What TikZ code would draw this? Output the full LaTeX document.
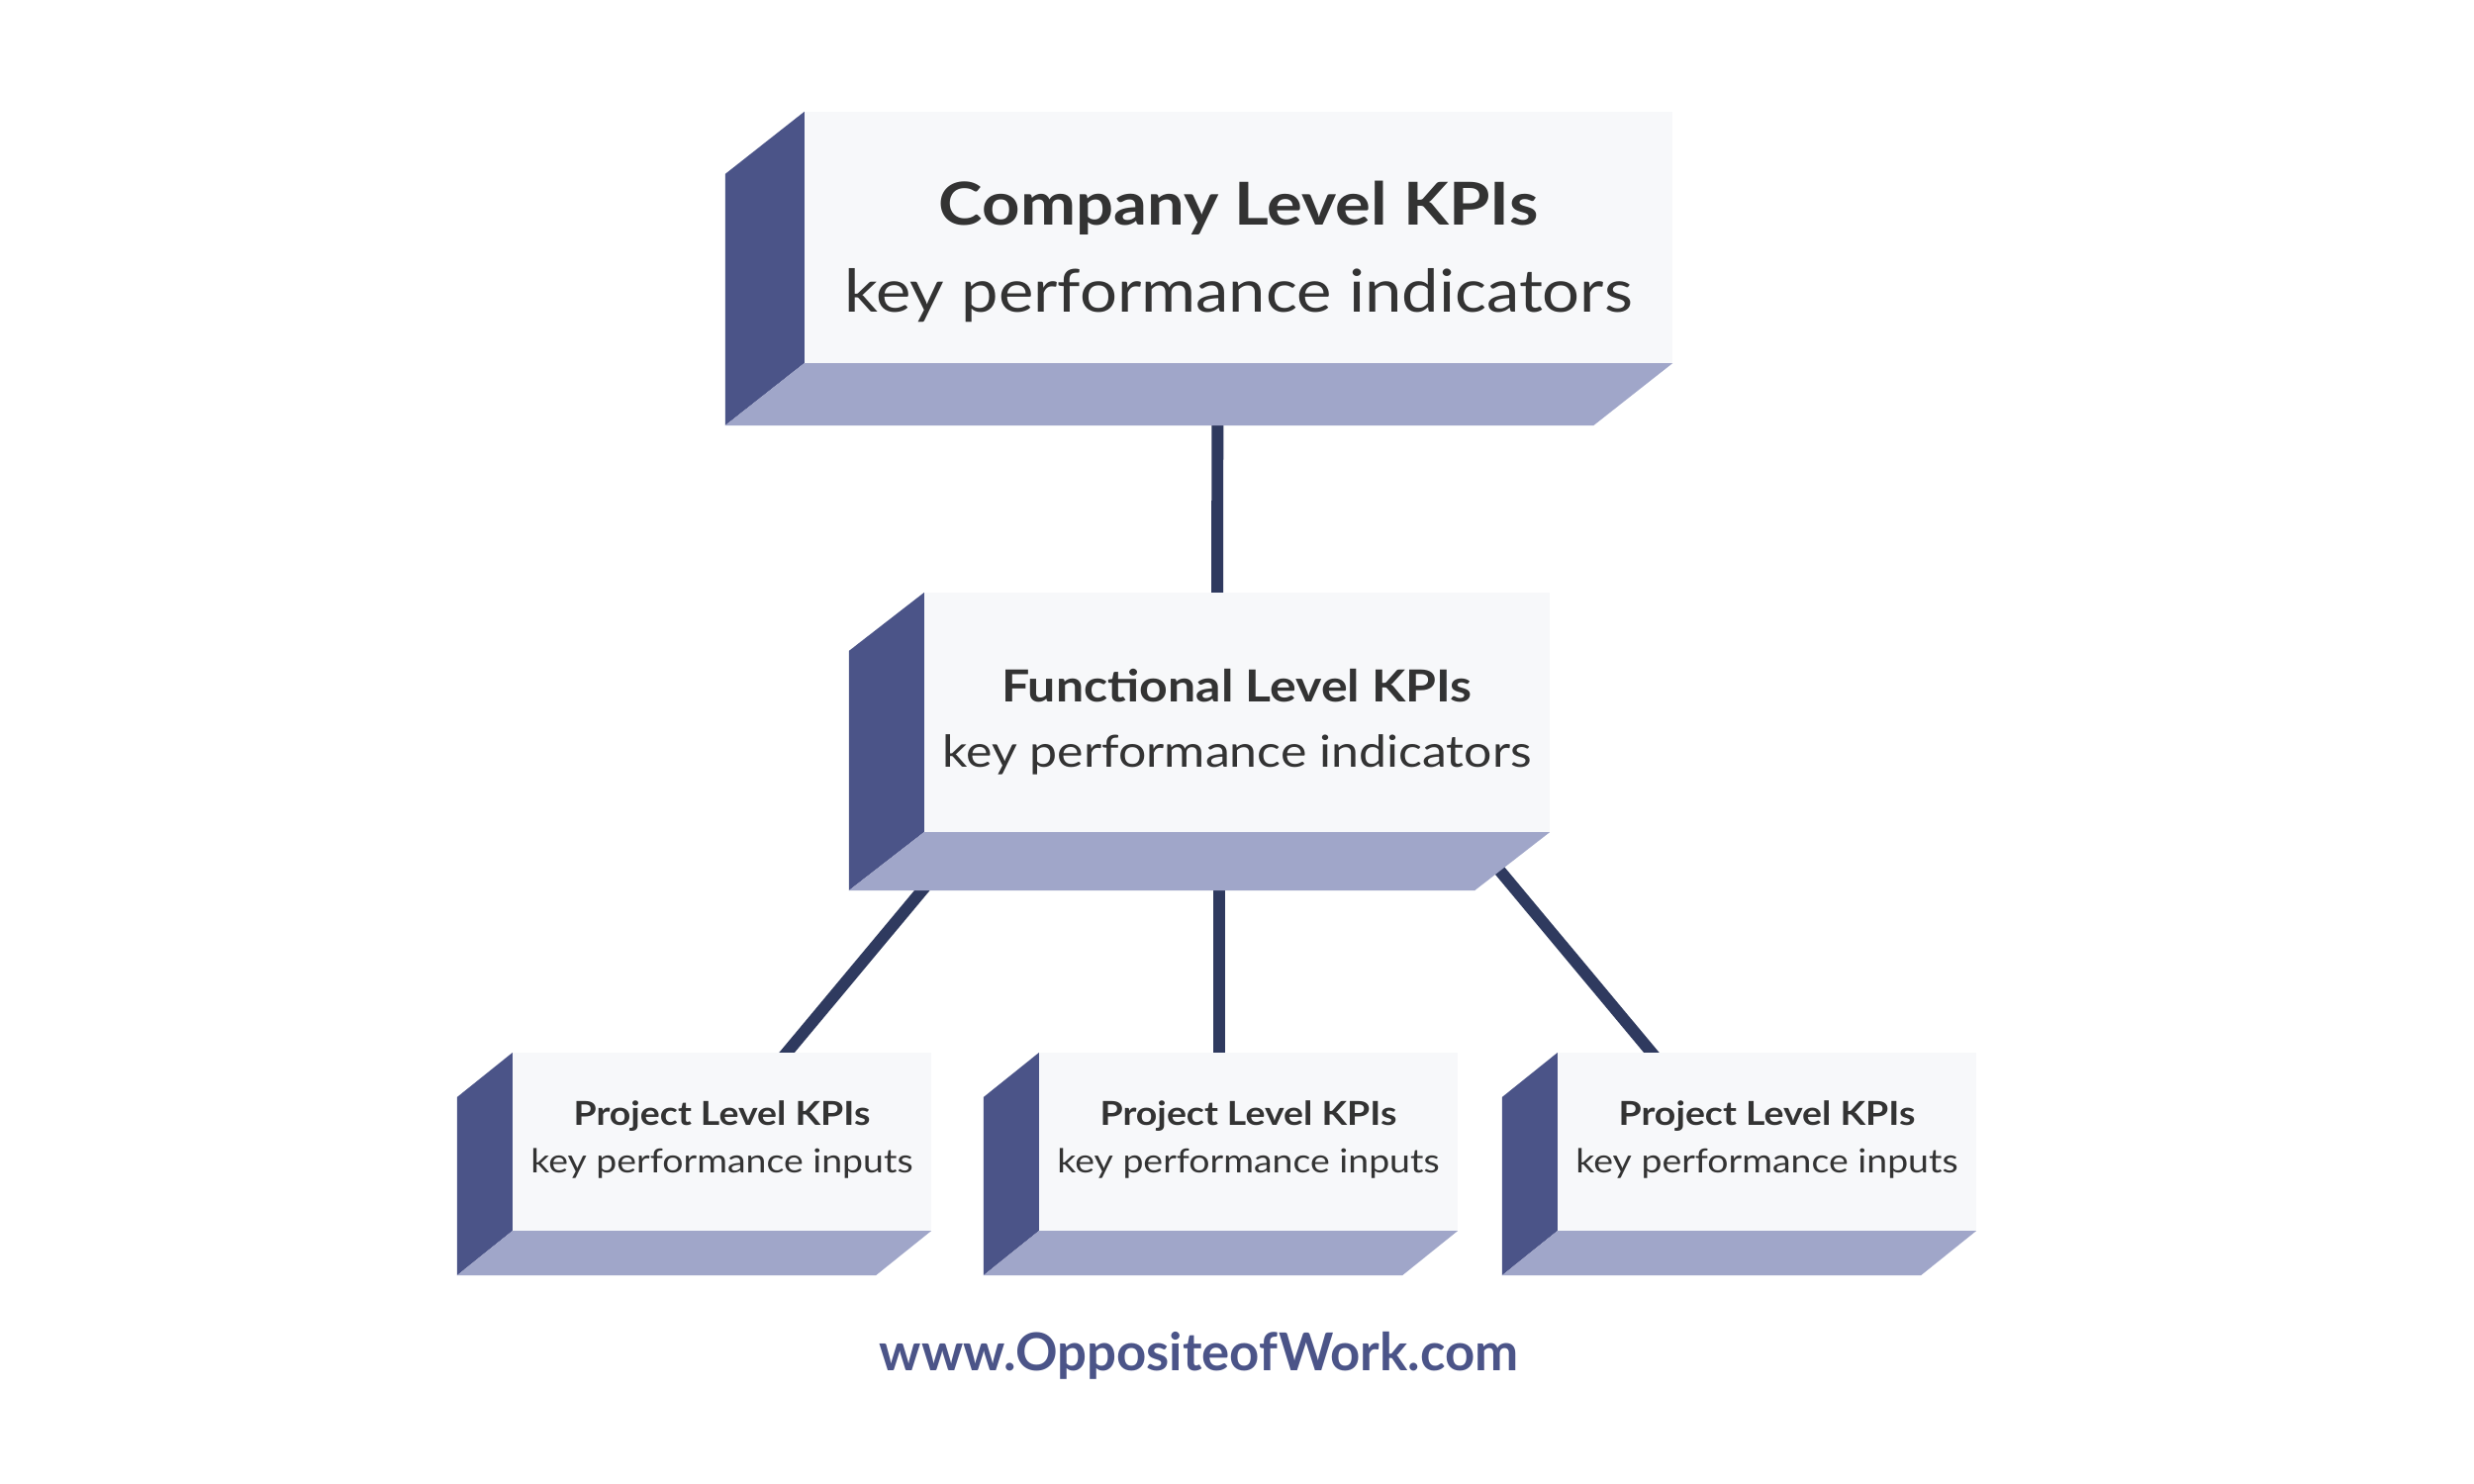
\documentclass[tikz,border=0pt]{standalone}
\usepackage{fontspec}
\setmainfont{Lato}
\newfontfamily\boxfont[FakeStretch=1.12]{Lato}
\usetikzlibrary{backgrounds}
\definecolor{sidecol}{HTML}{4B5488}
\definecolor{bottomcol}{HTML}{A0A6C9}
\definecolor{frontcol}{HTML}{F7F8FA}
\definecolor{linkcol}{HTML}{2F3A5F}
\definecolor{textcol}{HTML}{333333}
\tikzset{
  front/.style={fill=frontcol, inner sep=0pt, outer sep=0pt},
  boxtitle/.style={anchor=base, text=textcol, font=\boxfont\bfseries\fontsize{#1}{#1}\selectfont},
  boxtext/.style={anchor=base, text=textcol, font=\boxfont\fontsize{#1}{#1}\selectfont},
  link/.style={draw=linkcol, line width=3.4pt},
}
\begin{document}
\begin{tikzpicture}[x=0.01cm, y=-0.01cm]
   \useasboundingbox (0,0) rectangle (2500,1500);
   % front faces
   \node [front, minimum width=8.77cm, minimum height=2.54cm] (comp) at (1251.5,240) {};
   \node [front, minimum width=6.32cm, minimum height=2.42cm] (func) at (1250,720) {};
   \foreach \n/\x in {p1/729.5, p2/1261.5, p3/1785.5}
      \node [front, minimum width=4.23cm, minimum height=1.8cm] (\n) at (\x,1154) {};
   % texts
   \node [boxtitle=17] (comptitle) at ([yshift=0.12cm]comp.center) {Company Level KPIs};
   \node [boxtext=17] (comptext) at ([yshift=-0.75cm]comp.center) {key performance indicators};
   \node [boxtitle=12.7] (functitle) at ([yshift=0.11cm]func.center) {Functional Level KPIs};
   \node [boxtext=12.7] (functext) at ([yshift=-0.55cm]func.center) {key performance indicators};
   \foreach \n in {p1, p2, p3} {
      \node [boxtitle=9.5] (\n title) at ([yshift=0.17cm]\n.center) {Project Level KPIs};
      \node [boxtext=9.5] (\n text) at ([yshift=-0.31cm]\n.center) {key performance inputs};
   }
   \node [anchor=base, text=sidecol, font=\bfseries\fontsize{15}{15}\selectfont] (web) at (1211.5,1385) {www.OppositeofWork.com};
   % connectors and the side and bottom faces, behind the front faces
   \begin{scope}[on background layer]
      \draw [link] ([xshift=-0.21cm]comp.center) -- ([xshift=-0.2cm]func.center);
      \draw [link] ([xshift=-1.68cm]func.center) -- ([xshift=-0.095cm]p1.center);
      \draw [link] ([xshift=-0.18cm]func.center) -- ([xshift=-0.295cm]p2.center);
      \draw [link] ([xshift=1.32cm]func.center) -- ([xshift=-0.415cm]p3.center);
      \foreach \n/\dx/\dy in {comp/80/63, func/76/59, p1/56/45, p2/56/45, p3/56/45} {
         \fill [sidecol] (\n.north west) -- (\n.south west) -- ++(-\dx,\dy) -- ([shift={(-\dx,\dy)}]\n.north west) -- cycle;
         \fill [bottomcol] (\n.south west) -- (\n.south east) -- ++(-\dx,\dy) -- ([shift={(-\dx,\dy)}]\n.south west) -- cycle;
      }
   \end{scope}
\end{tikzpicture}
\end{document}
